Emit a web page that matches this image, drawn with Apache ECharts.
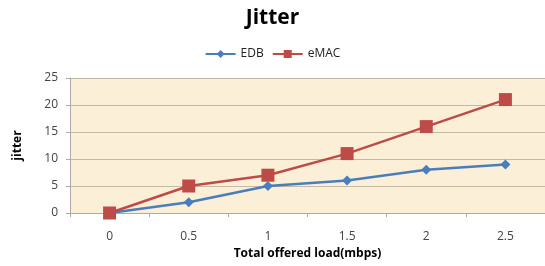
<!DOCTYPE html>
<html><head><meta charset="utf-8">
<script src="https://cdn.jsdelivr.net/npm/echarts@6/dist/echarts.min.js"></script>
<style>html,body{margin:0;padding:0;background:#fff}#c{width:545px;height:266px}</style>
</head><body><div id="c"></div>
<script>
var categories = ['0', '0.5', '1', '1.5', '2', '2.5'];
var edb = [0, 2, 5, 6, 8, 9];
var emac = [0, 5, 7, 11, 16, 21];
var chart = echarts.init(document.getElementById('c'));
chart.setOption({
  animation: false,
  title: { text: 'Jitter', left: 'center', top: 3, textStyle: { fontFamily: 'Open Sans', fontWeight: 'bold', fontSize: 21, color: '#000' } },
  legend: { top: 43, left: 'center', itemGap: 8, itemWidth: 30, itemHeight: 10,
    textStyle: { fontFamily: 'Open Sans', fontSize: 12, color: '#222' },
    data: ['EDB', 'eMAC'] },
  grid: { left: 70, right: 0, top: 78, bottom: 53, backgroundColor: '#fcefd8', show: true, borderWidth: 0 },
  xAxis: { type: 'category', data: categories, boundaryGap: true,
    name: 'Total offered load(mbps)', nameLocation: 'middle', nameGap: 33,
    nameTextStyle: { fontFamily: 'Open Sans', fontWeight: 'bold', fontSize: 12, color: '#000' },
    axisLine: { lineStyle: { color: '#aaa' } }, axisTick: { show: true, length: 4, lineStyle: { color: '#aaa' } },
    axisLabel: { fontFamily: 'Open Sans', fontSize: 12, color: '#444', margin: 18 } },
  yAxis: { type: 'value', min: 0, max: 25, interval: 5,
    name: 'jitter', nameLocation: 'middle', nameGap: 46, nameRotate: 90,
    nameTextStyle: { fontFamily: 'Open Sans', fontWeight: 'bold', fontSize: 12, color: '#000' },
    axisLine: { show: true, lineStyle: { color: '#aaa' } }, axisTick: { show: true, length: 4, lineStyle: { color: '#aaa' } },
    splitLine: { lineStyle: { color: '#c4b9a4' } },
    axisLabel: { fontFamily: 'Open Sans', fontSize: 12, color: '#444', margin: 12 } },
  series: [
    { name: 'EDB', type: 'line', data: edb, symbol: 'diamond', symbolSize: 10,
      lineStyle: { color: '#4a7ebb', width: 2.5 }, itemStyle: { color: '#4a7ebb' } },
    { name: 'eMAC', type: 'line', data: emac, symbol: 'rect', symbolSize: 13,
      lineStyle: { color: '#be4b48', width: 2.5 }, itemStyle: { color: '#be4b48' } }
  ]
});
</script></body></html>
